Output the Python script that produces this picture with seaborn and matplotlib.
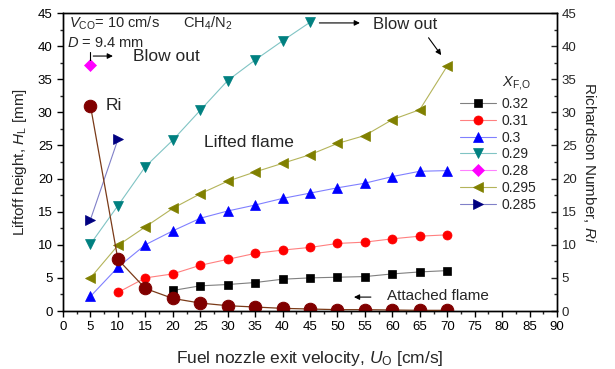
import matplotlib
matplotlib.use("Agg")
import matplotlib.pyplot as plt
import seaborn as sns
import pandas as pd
from matplotlib.ticker import MultipleLocator

sns.set_style("ticks")
plt.rcParams["font.family"] = ["Liberation Sans", "DejaVu Sans"]
plt.rcParams["mathtext.fontset"] = "custom"
plt.rcParams["mathtext.rm"] = "Liberation Sans"
plt.rcParams["mathtext.it"] = "Liberation Sans:italic"

# Liftoff height [mm] versus fuel nozzle exit velocity [cm/s]
u_032 = [20, 25, 30, 35, 40, 45, 50, 55, 60, 65, 70]
h_032 = [3.1, 3.8, 4.0, 4.3, 4.8, 5.0, 5.1, 5.2, 5.6, 5.9, 6.1]

u_031 = [10, 15, 20, 25, 30, 35, 40, 45, 50, 55, 60, 65, 70]
h_031 = [2.8, 5.0, 5.6, 6.9, 7.8, 8.7, 9.2, 9.6, 10.2, 10.4, 10.9, 11.3, 11.5]

u_030 = [5, 10, 15, 20, 25, 30, 35, 40, 45, 50, 55, 60, 65, 70]
h_030 = [2.2, 6.6, 10.0, 12.1, 14.0, 15.1, 16.0, 17.0, 17.8, 18.6, 19.3, 20.3, 21.1, 21.2]

u_029 = [5, 10, 15, 20, 25, 30, 35, 40, 45]
h_029 = [10.1, 15.9, 21.8, 25.8, 30.3, 34.8, 37.9, 40.8, 43.6]

u_028 = [5]
h_028 = [37.1]

u_0295 = [5, 10, 15, 20, 25, 30, 35, 40, 45, 50, 55, 60, 65, 70]
h_0295 = [5.0, 9.9, 12.7, 15.5, 17.7, 19.6, 21.0, 22.3, 23.6, 25.3, 26.5, 28.9, 30.4, 37.0]

u_0285 = [5, 10]
h_0285 = [13.8, 25.9]

# Richardson number
u_ri = [5, 10, 15, 20, 25, 30, 35, 40, 45, 50, 55, 60, 65, 70]
ri = [31.0, 7.8, 3.4, 1.9, 1.2, 0.8, 0.6, 0.4, 0.3, 0.2, 0.2, 0.15, 0.1, 0.1]

series_labels = ["0.32", "0.31", "0.3", "0.29", "0.28", "0.295", "0.285"]
series = [(u_032, h_032), (u_031, h_031), (u_030, h_030), (u_029, h_029),
          (u_028, h_028), (u_0295, h_0295), (u_0285, h_0285)]
markers = ["s", "o", "^", "v", "D", "<", ">"]
marker_colors = ["#000000", "#ff0000", "#0000ff", "#008080", "#ff00ff", "#808000", "#000080"]
line_colors = ["#808080", "#ff8080", "#8080ff", "#80c4c4", "#ff80ff", "#b4b45a", "#8080c8"]
marker_sizes = [6, 6.5, 7.5, 7.5, 6, 7.5, 7.5]

fig = plt.figure(figsize=(6.15, 3.69), dpi=100)
ax = fig.add_axes([63 / 615, 1 - 311 / 369, (557 - 63) / 615, (311 - 13) / 369])

for (u, h), lab, mk, mc, lc, ms in zip(series, series_labels, markers,
                                        marker_colors, line_colors, marker_sizes):
    df = pd.DataFrame({"u": u, "h": h})
    sns.lineplot(data=df, x="u", y="h", ax=ax, color=lc, lw=0.8,
                 marker=mk, markersize=ms, markerfacecolor=mc,
                 markeredgecolor=mc, markeredgewidth=0.5, label=lab)

ax.set_xlim(0, 90)
ax.set_ylim(0, 45)
ax.xaxis.set_major_locator(MultipleLocator(5))
ax.xaxis.set_minor_locator(MultipleLocator(2.5))
ax.yaxis.set_major_locator(MultipleLocator(5))
ax.yaxis.set_minor_locator(MultipleLocator(2.5))
ax.tick_params(axis="both", which="major", direction="out", length=4, width=1,
               labelsize=9.5, colors="black")
ax.tick_params(axis="both", which="minor", direction="out", length=2.5, width=1)
for s in ax.spines.values():
    s.set_linewidth(1.0)
    s.set_color("black")

ax.set_xlabel(r"Fuel nozzle exit velocity, $U_{\mathrm{O}}$ [cm/s]", fontsize=12.5, labelpad=11)
ax.set_ylabel(r"Liftoff height, $H_{\mathrm{L}}$ [mm]", fontsize=11, labelpad=6)

# Richardson number on the right-hand axis
ax2 = ax.twinx()
sns.lineplot(x=u_ri, y=ri, ax=ax2, color="#7a3a18", lw=0.9, marker="o",
             markersize=9, markerfacecolor="#800000", markeredgecolor="#800000",
             legend=False)
ax2.set_ylim(0, 45)
ax2.yaxis.set_major_locator(MultipleLocator(5))
ax2.yaxis.set_minor_locator(MultipleLocator(2.5))
ax2.tick_params(axis="y", which="major", direction="in", length=4, width=1, labelsize=9.5)
ax2.tick_params(axis="y", which="minor", direction="in", length=2.5, width=1)
ax2.set_ylabel(r"Richardson Number, $Ri$", fontsize=11, rotation=270, labelpad=15)
for s in ax2.spines.values():
    s.set_linewidth(1.0)
    s.set_color("black")

# Legend
handles, labels = ax.get_legend_handles_labels()
ax.legend(handles, labels, loc="upper left", frameon=False, fontsize=10,
          bbox_to_anchor=(460 / 615, 1 - 97 / 369), bbox_transform=fig.transFigure,
          borderpad=0, borderaxespad=0, handlelength=2.6, handletextpad=0.4,
          labelspacing=0.2)
ax.text(79.9, 34.4, r"$X_{\mathrm{F{,}O}}$", fontsize=10.5, ha="left", va="center")

# Annotations
ax.text(1.1, 43.4, r"$V_{\mathrm{CO}}$= 10 cm/s", fontsize=10.5, va="center")
ax.text(21.9, 43.4, r"CH$_{4}$/N$_{2}$", fontsize=10.5, va="center")
ax.text(0.7, 40.5, r"$D$ = 9.4 mm", fontsize=10.5, va="center")

ax.plot([5, 5], [37.9, 39.1], color="black", lw=0.8)
ax.annotate("", xy=(9.6, 38.5), xytext=(5, 38.5),
            arrowprops=dict(arrowstyle="-|>", color="black", lw=0.8, mutation_scale=8))
ax.text(12.7, 38.4, "Blow out", fontsize=12.5, va="center")

ax.annotate("", xy=(54.6, 43.5), xytext=(46.2, 43.5),
            arrowprops=dict(arrowstyle="-|>", color="black", lw=0.8, mutation_scale=8))
ax.text(56.4, 43.3, "Blow out", fontsize=12, va="center")
ax.annotate("", xy=(69.2, 38.3), xytext=(66.3, 41.6),
            arrowprops=dict(arrowstyle="-|>", color="black", lw=0.8, mutation_scale=8))

ax.text(7.7, 31.0, "Ri", fontsize=12.5, va="center")
ax.text(25.6, 25.4, "Lifted flame", fontsize=12.5, va="center")

ax.annotate("", xy=(52.5, 2.1), xytext=(56.6, 2.1),
            arrowprops=dict(arrowstyle="-|>", color="black", lw=0.8, mutation_scale=8))
ax.text(59.1, 2.2, "Attached flame", fontsize=11, va="center")

fig.savefig("out.png", dpi=100)
